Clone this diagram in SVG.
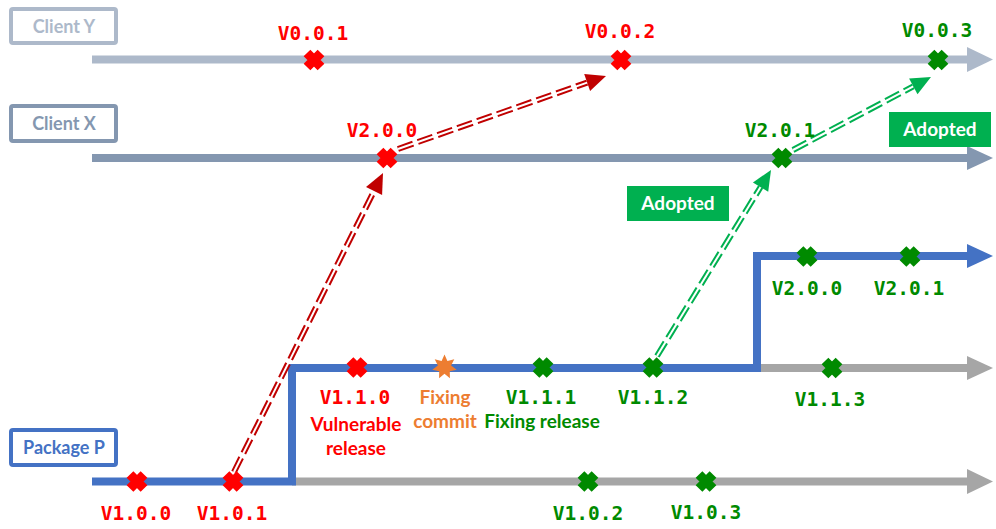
<svg xmlns="http://www.w3.org/2000/svg" xmlns:xlink="http://www.w3.org/1999/xlink" width="996" height="529" viewBox="0 0 996 529">
<style>
.lane{fill:none;stroke-width:8;stroke-linejoin:miter}
.box{fill:#fff;stroke-width:4}
.boxt{font-family:Lato,"Open Sans",sans-serif;font-weight:bold;font-size:18px;text-anchor:middle}
.ver{font-family:"DejaVu Sans Mono","Liberation Mono",monospace;font-weight:bold;font-size:19.5px;text-anchor:middle}
.note{font-family:Lato,"Open Sans",sans-serif;font-weight:bold;font-size:19px;text-anchor:middle}
.red{fill:#FF0000}.grn{fill:#008A00}.org{fill:#ED7D31}
.dl{fill:none;stroke-width:6;stroke-dasharray:16 5}
.core{fill:none;stroke:#fff;stroke-width:2}
.adopt{fill:#00B050}
.adoptt{font-family:Lato,"Open Sans",sans-serif;font-weight:bold;font-size:19px;text-anchor:middle;fill:#fff}
</style>
<defs>
<g id="xm"><path d="M-7,-7L7,7M-7,7L7,-7" stroke="currentColor" stroke-width="9.5" fill="none"/></g>
</defs>
<g id="lanes">
<path class="lane" stroke="#ADB9CA" d="M92,59.5H968"/><polygon fill="#ADB9CA" points="967,47 993,59.5 967,72"/>
<path class="lane" stroke="#8497B0" d="M92,158H968"/><polygon fill="#8497B0" points="967,146 993,158 967,170"/>
<path class="lane" stroke="#A6A6A6" d="M292,481.5H968"/><polygon fill="#A6A6A6" points="967,469 993,481.5 967,494"/>
<path class="lane" stroke="#A6A6A6" d="M757,368H968"/><polygon fill="#A6A6A6" points="967,356 993,368 967,380"/>
<path class="lane" stroke="#4472C4" d="M92,481.5H292V368H757V256H968"/><polygon fill="#4472C4" points="967,244 993,256 967,268"/>
</g>
<g id="boxes">
<g id="clientY"><rect class="box" x="11" y="9" width="105" height="34" rx="2" stroke="#ADB9CA"/><text class="boxt" x="64" y="33" fill="#ADB9CA">Client Y</text></g>
<g id="clientX"><rect class="box" x="11" y="106" width="105" height="35" rx="2" stroke="#8497B0"/><text class="boxt" x="64" y="130" fill="#8497B0">Client X</text></g>
<g id="packageP"><rect class="box" x="11" y="430" width="105" height="35" rx="2" stroke="#4472C4"/><text class="boxt" x="64" y="454" fill="#4472C4">Package P</text></g>
</g>
<g id="connectors">
<g id="vuln1"><path class="dl" stroke="#C00000" d="M234,472L374.1,190.9"/><path class="core" d="M234,472L374.1,190.9"/><polygon fill="#C00000" points="383,173 382.1,194.9 366,186.9"/></g>
<g id="vuln2"><path class="dl" stroke="#C00000" d="M398,149L587.1,82.6"/><path class="core" d="M398,149L587.1,82.6"/><polygon fill="#C00000" points="606,76 590.1,91.1 584.2,74.1"/></g>
<g id="fix1"><path class="dl" stroke="#00B050" d="M657,356L760.6,187"/><path class="core" d="M657,356L760.6,187"/><polygon fill="#00B050" points="771,170 768.2,191.8 752.9,182.4"/></g>
<g id="fix2"><path class="dl" stroke="#00B050" d="M793,150L913.3,86.4"/><path class="core" d="M793,150L913.3,86.4"/><polygon fill="#00B050" points="931,77 917.5,94.3 909.1,78.4"/></g>
</g>
<g id="markers">
<use xlink:href="#xm" x="314" y="60" style="color:#FF0000"/>
<use xlink:href="#xm" x="621" y="60" style="color:#FF0000"/>
<use xlink:href="#xm" x="938" y="60" style="color:#008A00"/>
<use xlink:href="#xm" x="387" y="158" style="color:#FF0000"/>
<use xlink:href="#xm" x="782" y="158" style="color:#008A00"/>
<use xlink:href="#xm" x="137" y="481.5" style="color:#FF0000"/>
<use xlink:href="#xm" x="233" y="481.5" style="color:#FF0000"/>
<use xlink:href="#xm" x="588" y="481.5" style="color:#008A00"/>
<use xlink:href="#xm" x="706" y="481.5" style="color:#008A00"/>
<use xlink:href="#xm" x="357" y="367.5" style="color:#FF0000"/>
<use xlink:href="#xm" x="543" y="367.5" style="color:#008A00"/>
<use xlink:href="#xm" x="653" y="367.5" style="color:#008A00"/>
<use xlink:href="#xm" x="832" y="368" style="color:#008A00"/>
<use xlink:href="#xm" x="807" y="256.5" style="color:#008A00"/>
<use xlink:href="#xm" x="910" y="256.5" style="color:#008A00"/>
<polygon fill="#ED7D31" transform="translate(444.5,367)" points="0,-12.5 2.9,-6.1 9.8,-7.8 6.6,-1.5 12.2,2.8 5.3,4.2 5.4,11.3 0,6.8 -5.4,11.3 -5.3,4.2 -12.2,2.8 -6.6,-1.5 -9.8,-7.8 -2.9,-6.1"/>
</g>
<g id="labels">
<text class="ver red" x="313" y="40">V0.0.1</text>
<text class="ver red" x="620" y="38">V0.0.2</text>
<text class="ver grn" x="937" y="37">V0.0.3</text>
<text class="ver red" x="382" y="137">V2.0.0</text>
<text class="ver grn" x="780" y="137">V2.0.1</text>
<text class="ver grn" x="807" y="295">V2.0.0</text>
<text class="ver grn" x="909" y="295">V2.0.1</text>
<text class="ver red" x="355" y="404">V1.1.0</text>
<text class="note red" x="356" y="431">Vulnerable</text>
<text class="note red" x="356" y="455">release</text>
<text class="note org" x="445" y="404">Fixing</text>
<text class="note org" x="445" y="428">commit</text>
<text class="ver grn" x="541" y="404">V1.1.1</text>
<text class="note grn" x="542" y="428">Fixing release</text>
<text class="ver grn" x="653" y="404">V1.1.2</text>
<text class="ver grn" x="830" y="406">V1.1.3</text>
<text class="ver red" x="136" y="520">V1.0.0</text>
<text class="ver red" x="232" y="520">V1.0.1</text>
<text class="ver grn" x="588" y="520">V1.0.2</text>
<text class="ver grn" x="706" y="519">V1.0.3</text>
</g>
<g id="adopted1"><rect class="adopt" x="889" y="112" width="102" height="35"/><text class="adoptt" x="940" y="136">Adopted</text></g>
<g id="adopted2"><rect class="adopt" x="627" y="186" width="102" height="35"/><text class="adoptt" x="678" y="210">Adopted</text></g>
</svg>
